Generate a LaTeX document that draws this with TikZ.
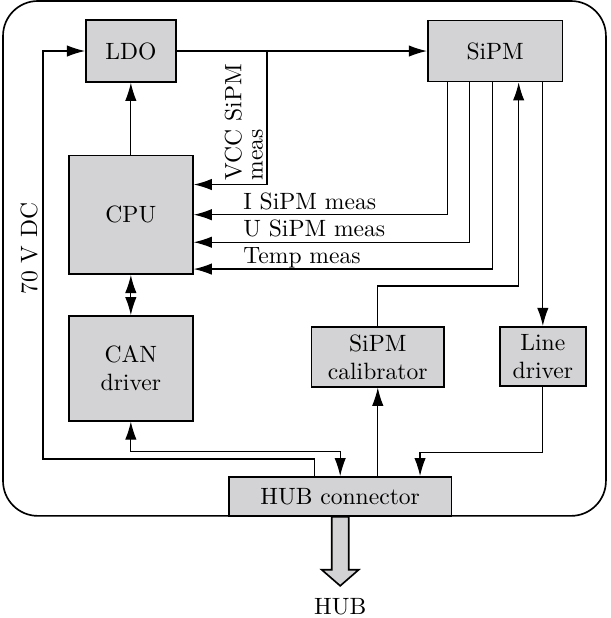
\documentclass[tikz,border=0pt]{standalone}
\usepackage{xcolor}
\usepackage{tikz}
\usetikzlibrary{arrows.meta,positioning}
\definecolor{boxgray}{RGB}{211,211,213}

\begin{document}
\begin{tikzpicture}[
  node distance=0.6cm,
  line width=0.5pt,
  blk/.style={draw, line width=0.7pt, fill=boxgray, align=center, inner sep=2pt},
  arrow/.style={-{Latex[length=2.7mm,width=1.7mm]}},
  dblarrow/.style={{Latex[length=2.7mm,width=1.7mm]}-{Latex[length=2.7mm,width=1.7mm]}},
  lbl/.style={inner sep=0pt, anchor=base west}
]
\useasboundingbox (0,0) rectangle (9.10,-9.21);
\draw[line width=0.7pt, rounded corners=0.52cm] (0.045,-0.015) rectangle (9.03,-7.688);

\node[blk, minimum width=1.85cm, minimum height=1.77cm] (cpu) at (1.95,-3.2) {CPU};
\node[blk, minimum width=1.34cm, minimum height=0.92cm, above=1.07cm of cpu] (ldo) {LDO};
\node[blk, minimum width=1.85cm, minimum height=1.56cm, below=of cpu] (can) {CAN\\driver};
\node[blk, minimum width=2.01cm, minimum height=0.91cm, right=3.73cm of ldo] (sipm) {SiPM};
\node[blk, minimum width=3.32cm, minimum height=0.58cm] (hub) at (5.07,-7.398) {HUB connector};
\node[blk, minimum width=1.98cm, minimum height=0.89cm] (cal) at (5.63,-5.32) {SiPM\\calibrator};
\node[blk, minimum width=1.28cm, minimum height=0.88cm] (line) at (8.09,-5.31) {Line\\driver};
\node (hubout) at ([yshift=-1.34cm]hub.south) {HUB};
\coordinate (tap) at (ldo.east -| 3.98,0);
\coordinate (rail) at (0.64,-6.84);

\draw[arrow] (ldo) -- (sipm);
\draw[arrow] (cpu) -- (ldo);
\draw[dblarrow] (cpu) -- (can);
\draw[arrow] (tap) |- node[pos=0.5, rotate=90, anchor=south west, align=left, inner sep=1.5pt] (vcclbl) {VCC SiPM\\[-3pt]meas} ([yshift=0.45cm]cpu.east);
\foreach \dx/\dy/\txt [count=\i] in {-0.71/0/I SiPM meas, -0.38/-0.41/U SiPM meas, -0.04/-0.81/Temp meas}
{
  \draw[arrow] ([xshift=\dx cm]sipm.south) |- ([yshift=\dy cm]cpu.east);
  \node[lbl] (meas\i) at ([xshift=0.73cm, yshift=\dy cm+0.08cm]cpu.east) {\txt};
}
\draw[arrow] (cal.north) -- ++(0,0.6) -| ([xshift=0.35cm]sipm.south);
\draw[arrow] (sipm.south -| line.north) -- (line.north);
\draw[arrow] (hub.north -| cal.south) -- (cal.south);
\draw[arrow] (line.south) -- ++(0,-0.98) -| ([xshift=1.19cm]hub.north);
\draw[dblarrow] (can.south) -- ++(0,-0.45) -| (hub.north);
\draw[arrow] ([xshift=-0.38cm]hub.north) |- (rail) |- node[pos=0.258, rotate=90, above, inner sep=2pt] (vdc) {70 V DC} (ldo.west);

% output to hub
\draw[line width=0.7pt, fill=boxgray] ([xshift=-0.127cm]hub.south) -- ++(0,-0.79) -- ++(-0.149,0) -- ++(0.276,-0.24) -- ++(0.276,0.24) -- ++(-0.149,0) -- ++(0,0.79) -- cycle;
\end{tikzpicture}
\end{document}
